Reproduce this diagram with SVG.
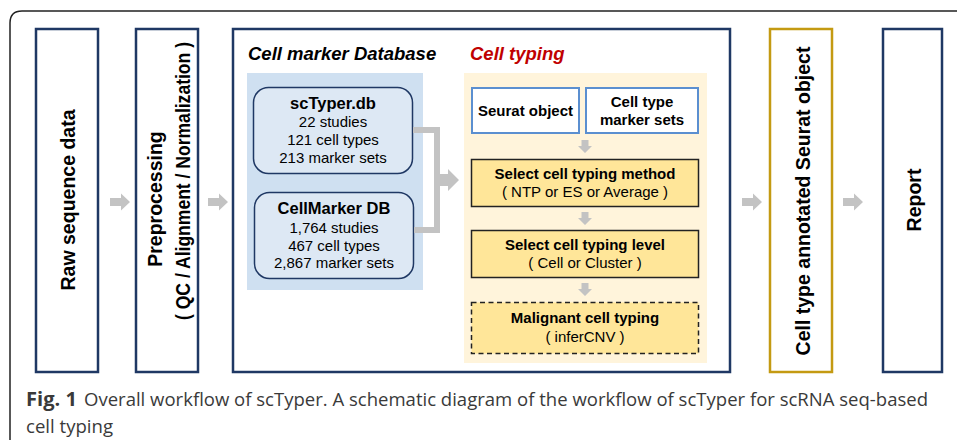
<svg xmlns="http://www.w3.org/2000/svg" width="957" height="440" viewBox="0 0 957 440">
<style>
.stage{fill:#ffffff;stroke:#1f3864;stroke-width:2.5}
.gold{fill:#ffffff;stroke:#c49a12;stroke-width:2.5}
.vt{font-family:"Liberation Sans",Arial,sans-serif;font-weight:bold;font-size:19.5px;fill:#000;text-anchor:middle}
.hd{font-family:"Liberation Sans",Arial,sans-serif;font-weight:bold;font-style:italic;font-size:18.5px}
.db{fill:#dde8f4;stroke:#1f3864;stroke-width:1.5}
.t1{font-family:"Liberation Sans",Arial,sans-serif;font-weight:bold;font-size:16.5px;fill:#000;text-anchor:middle}
.t2{font-family:"Liberation Sans",Arial,sans-serif;font-size:15px;fill:#000;text-anchor:middle}
.tb{font-family:"Liberation Sans",Arial,sans-serif;font-weight:bold;font-size:15px;fill:#000;text-anchor:middle}
.inp{fill:#ffffff;stroke:#5b8fd0;stroke-width:2}
.step{fill:#ffe699;stroke:#222;stroke-width:1.5}
.arr{fill:#c3c3c3}
.cap{font-family:"Open Sans","Liberation Sans",sans-serif;font-size:19px;fill:#3a3a3a}
</style>
<path d="M10,440 V23 Q10,11 22,11 H957" fill="none" stroke="#222" stroke-width="1.5"/>

<g id="raw">
<rect class="stage" x="36" y="29" width="62" height="343"/>
<text class="vt" transform="translate(75,200) rotate(-90)">Raw sequence data</text>
</g>
<g id="preprocessing">
<rect class="stage" x="136" y="29" width="62" height="343"/>
<text class="vt" transform="translate(162,199) rotate(-90)">Preprocessing</text>
<text class="vt" transform="translate(189.5,181) rotate(-90)" textLength="278" lengthAdjust="spacingAndGlyphs">( QC / Alignment / Normalization )</text>
</g>

<g id="main">
<rect class="stage" x="233" y="29" width="497" height="343"/>
<text class="hd" x="248" y="60" fill="#000">Cell marker Database</text>
<rect x="247" y="73" width="176" height="217" fill="#cfe0f1"/>
<text class="hd" x="470" y="60" fill="#c00000">Cell typing</text>
<rect x="464" y="73" width="243" height="290" fill="#fff4db"/>
</g>

<g id="sctyperdb">
<rect class="db" x="253.5" y="87.5" width="159" height="86" rx="15"/>
<text class="t1" x="333" y="109">scTyper.db</text>
<text class="t2" x="333" y="127">22 studies</text>
<text class="t2" x="333" y="145">121 cell types</text>
<text class="t2" x="333" y="163">213 marker sets</text>
</g>
<g id="cellmarkerdb">
<rect class="db" x="254.5" y="192.5" width="159" height="86" rx="15"/>
<text class="t1" x="334" y="214">CellMarker DB</text>
<text class="t2" x="334" y="233">1,764 studies</text>
<text class="t2" x="334" y="251">467 cell types</text>
<text class="t2" x="334" y="268">2,867 marker sets</text>
</g>

<g id="seurat">
<rect class="inp" x="472" y="88" width="107" height="45"/>
<text class="tb" x="525.5" y="116">Seurat object</text>
</g>
<g id="markersets">
<rect class="inp" x="586" y="88" width="112" height="45"/>
<text class="tb" x="642" y="107">Cell type</text>
<text class="tb" x="642" y="125">marker sets</text>
</g>
<g id="method">
<rect class="step" x="471.5" y="159.5" width="227" height="47"/>
<text class="tb" x="585" y="179">Select cell typing method</text>
<text class="t2" x="585" y="197">( NTP or ES or Average )</text>
</g>
<g id="level">
<rect class="step" x="471.5" y="230.5" width="227" height="47"/>
<text class="tb" x="585" y="250">Select cell typing level</text>
<text class="t2" x="585" y="268">( Cell or Cluster )</text>
</g>
<g id="malignant">
<rect class="step" x="471.5" y="302.5" width="227" height="51" stroke-dasharray="5,3.5"/>
<text class="tb" x="585" y="323">Malignant cell typing</text>
<text class="t2" x="585" y="342">( inferCNV )</text>
</g>

<g id="annotated">
<rect class="gold" x="770" y="29" width="62" height="343"/>
<text class="vt" transform="translate(810,201) rotate(-90)">Cell type annotated Seurat object</text>
</g>
<g id="report">
<rect class="stage" x="883" y="29" width="59" height="343"/>
<text class="vt" transform="translate(921,200) rotate(-90)">Report</text>
</g>

<g id="connectors">
<polygon class="arr" points="110,198 121,198 121,193.5 130,202 121,210.5 121,206 110,206"/>
<polygon class="arr" points="208,198 219,198 219,193.5 228,202 219,210.5 219,206 208,206"/>
<polygon class="arr" points="742,198 753,198 753,193.5 762,202 753,210.5 753,206 742,206"/>
<polygon class="arr" points="843,198 854,198 854,193.5 863,202 854,210.5 854,206 843,206"/>
<path d="M413,130 H437 V230 H414" fill="none" stroke="#c3c3c3" stroke-width="6"/>
<polygon class="arr" points="437,174 448,174 448,169 459,180 448,191 448,186 437,186"/>
<polygon class="arr" points="581.5,140 588.5,140 588.5,146 592,146 585,153 578,146 581.5,146"/>
<polygon class="arr" points="581.5,212 588.5,212 588.5,218 592,218 585,225 578,218 581.5,218"/>
<polygon class="arr" points="581.5,283 588.5,283 588.5,289 592,289 585,296 578,289 581.5,289"/>
</g>

<text class="cap" x="26" y="406" font-weight="bold" fill="#222" textLength="51" lengthAdjust="spacingAndGlyphs">Fig. 1</text>
<text class="cap" x="84" y="406" textLength="844" lengthAdjust="spacingAndGlyphs">Overall workflow of scTyper. A schematic diagram of the workflow of scTyper for scRNA seq-based</text>
<text class="cap" x="26" y="433" textLength="87" lengthAdjust="spacingAndGlyphs">cell typing</text>
</svg>
